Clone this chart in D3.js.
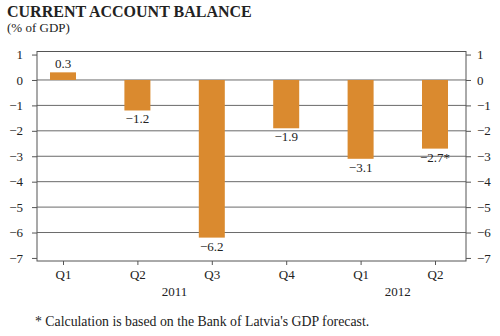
<!DOCTYPE html>
<html><head><meta charset="utf-8">
<script src="https://cdn.jsdelivr.net/npm/d3@7"></script>
<style>body{margin:0;background:#fff}svg{display:block}svg text{font-family:"Liberation Serif","Times New Roman",serif !important;fill:#222}</style>
</head><body><svg id="c" width="500" height="336"></svg>
<script>
const categories = ["Q1","Q2","Q3","Q4","Q1","Q2"];
const years = [{label:"2011", from:0, to:3},{label:"2012", from:4, to:5}];
const values = [0.3,-1.2,-6.2,-1.9,-3.1,-2.7];
const valueLabels = ["0.3","\u22121.2","\u22126.2","\u22121.9","\u22123.1","\u22122.7*"];
const yTicks = [1,0,-1,-2,-3,-4,-5,-6,-7];
const yTickLabels = ["1","0","\u22121","\u22122","\u22123","\u22124","\u22125","\u22126","\u22127"];

const svg = d3.select("#c");
const L=37, R=466, T=51.5, B=261;
const y = d3.scaleLinear().domain([-7.12,1.12]).range([B,T]);
const x = d3.scalePoint().domain(d3.range(categories.length)).range([63,435]);
const bw = 26;

svg.append("text").attr("x",7).attr("y",17).attr("font-size",16).attr("font-weight","bold").text("CURRENT ACCOUNT BALANCE");
svg.append("text").attr("x",7).attr("y",32).attr("font-size",13).text("(% of GDP)");

// gridlines
svg.append("g").selectAll("line").data(yTicks.filter(d=>d>-7 && d<1)).join("line")
  .attr("x1",L).attr("x2",R).attr("y1",d=>y(d)).attr("y2",d=>y(d))
  .attr("stroke","#6a6a6a").attr("stroke-width",1);

// bars
svg.append("g").selectAll("rect").data(values).join("rect")
  .attr("x",(d,i)=>x(i)-bw/2).attr("width",bw)
  .attr("y",d=>y(Math.max(0,d))).attr("height",d=>Math.abs(y(d)-y(0)))
  .attr("fill","#DA8A2F");

// frame
svg.append("rect").attr("x",L).attr("y",T).attr("width",R-L).attr("height",B-T)
  .attr("fill","none").attr("stroke","#555").attr("stroke-width",1);

// axes
const fmt = d=>yTickLabels[yTicks.indexOf(d)];
const la = svg.append("g").attr("transform",`translate(${L},0)`)
  .call(d3.axisLeft(y).tickValues(yTicks).tickFormat(fmt).tickSize(5).tickPadding(9));
const ra = svg.append("g").attr("transform",`translate(${R},0)`)
  .call(d3.axisRight(y).tickValues(yTicks).tickFormat(fmt).tickSize(5).tickPadding(6));
const ba = svg.append("g").attr("transform",`translate(0,${B})`)
  .call(d3.axisBottom(x).tickFormat(i=>categories[i]).tickSize(4).tickPadding(5));
[la,ra,ba].forEach(g=>{
  g.select(".domain").remove();
  g.attr("font-family",null).attr("font-size",null);
  g.selectAll("line").attr("stroke","#555");
  g.selectAll("text").attr("font-size",13).attr("fill","#222");
});

// years
svg.append("g").selectAll("text").data(years).join("text")
  .attr("x",d=>(x(d.from)+x(d.to))/2).attr("y",296).attr("text-anchor","middle").attr("font-size",13)
  .text(d=>d.label);

// value labels
svg.append("g").selectAll("text").data(values).join("text")
  .attr("x",(d,i)=>x(i)).attr("text-anchor","middle").attr("font-size",13)
  .attr("y",d=>d>=0 ? y(d)-4 : y(d)+13)
  .text((d,i)=>valueLabels[i]);

svg.append("text").attr("x",35).attr("y",326).attr("font-size",13.8)
  .text("* Calculation is based on the Bank of Latvia's GDP forecast.");
</script></body></html>
